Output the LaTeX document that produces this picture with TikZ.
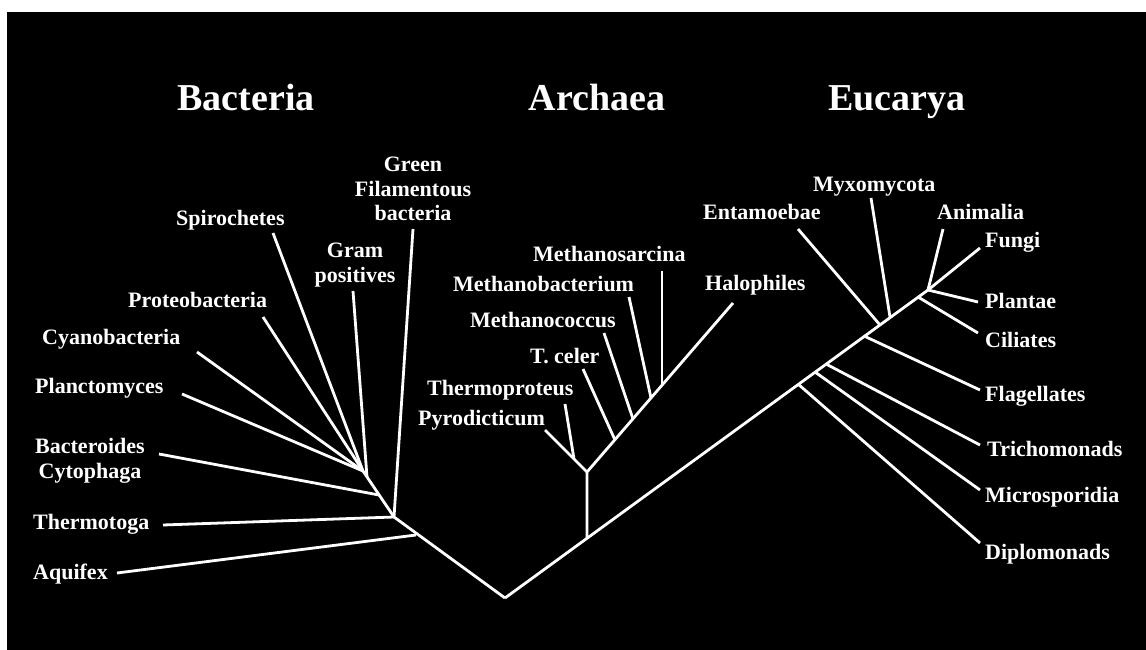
\documentclass[tikz,border=0pt]{standalone}
\usepackage{fontspec}
\setmainfont{Liberation Serif}

\begin{document}
\begin{tikzpicture}[x=1pt,y=-1pt,
        tree/.style={draw=white,line width=2.8pt},
        lab/.style={text=white,inner sep=0pt,font=\bfseries\fontsize{22}{24.5}\selectfont},
        taxon/.style={lab,text height=15pt,text depth=5pt},
        taxa/.style={lab,align=center},
        realm/.style={text=white,inner sep=0pt,text height=26pt,text depth=0pt,font=\bfseries\fontsize{38}{40}\selectfont}]
        \useasboundingbox (0,0) rectangle (1146,650);
        \fill[white] (0,0) rectangle (1146,650);
        \fill[black] (7,12) rectangle (1146,650);

        % domains
        \node[realm] (bact) at (246,98) {Bacteria};
        \node[realm] (arch) at (597,98) {Archaea};
        \node[realm] (euca) at (897,98) {Eucarya};

        % labels
        \node[taxon,anchor=west] (aqu) at (33,574) {Aquifex};
        \node[taxon,anchor=west] (the) at (33,524) {Thermotoga};
        \node[taxa] (bac) at (90,461) {Bacteroides\\Cytophaga};
        \node[taxon,anchor=west] (pla) at (35,388) {Planctomyces};
        \node[taxon,anchor=west] (cya) at (42,339) {Cyanobacteria};
        \node[taxon,anchor=west] (pro) at (128,302) {Proteobacteria};
        \node[taxon,anchor=west] (spi) at (176,220) {Spirochetes};
        \node[taxa] (gra) at (355,265) {Gram\\positives};
        \node[taxa] (gre) at (413,189) {Green\\Filamentous\\bacteria};

        \node[taxon,anchor=west] (pyr) at (418,420) {Pyrodicticum};
        \node[taxon,anchor=west] (thp) at (427,390) {Thermoproteus};
        \node[taxon,anchor=west] (tce) at (530,358) {T. celer};
        \node[taxon,anchor=west] (mcc) at (470,322) {Methanococcus};
        \node[taxon,anchor=west] (mbc) at (453,286) {Methanobacterium};
        \node[taxon,anchor=west] (msa) at (533,256) {Methanosarcina};
        \node[taxon,anchor=west] (hal) at (705,285) {Halophiles};

        \node[taxon,anchor=west] (ent) at (703,214) {Entamoebae};
        \node[taxon,anchor=west] (myx) at (813,186) {Myxomycota};
        \node[taxon,anchor=west] (ani) at (937,214) {Animalia};
        \node[taxon,anchor=west] (fun) at (985,242) {Fungi};
        \node[taxon,anchor=west] (pln) at (985,303) {Plantae};
        \node[taxon,anchor=west] (cil) at (985,342) {Ciliates};
        \node[taxon,anchor=west] (fla) at (985,396) {Flagellates};
        \node[taxon,anchor=west] (tri) at (987,451) {Trichomonads};
        \node[taxon,anchor=west] (mic) at (985,497) {Microsporidia};
        \node[taxon,anchor=west] (dip) at (985,554) {Diplomonads};

        % tree junctions
        \coordinate (root) at (505,598);
        \coordinate (aqj) at (416,535);
        \coordinate (bh) at (394,517);
        \coordinate (bcj) at (379,495);
        \coordinate (grj) at (367,477);
        \coordinate (bh2) at (363,471);
        \coordinate (aj) at (587,538);
        \coordinate (ah) at (587,472);
        \coordinate (pyj) at (574,459);
        \coordinate (tcj) at (615,440);
        \coordinate (mcj) at (633,419);
        \coordinate (mbj) at (651,398);
        \coordinate (msj) at (662,385);
        \coordinate (dij) at (798,384);
        \coordinate (mij) at (815,372);
        \coordinate (trj) at (826,364);
        \coordinate (flj) at (864,336);
        \coordinate (enj) at (880,325);
        \coordinate (myj) at (890,317);
        \coordinate (cij) at (918,297);
        \coordinate (eh) at (928,290);

        % free ends
        \coordinate (aqu-t) at (117,573);
        \coordinate (the-t) at (163,525);
        \coordinate (bac-t) at (159,454);
        \coordinate (pla-t) at (182,394);
        \coordinate (cya-t) at (197,352);
        \coordinate (pro-t) at (263,317);
        \coordinate (spi-t) at (273,233);
        \coordinate (gra-t) at (353,291);
        \coordinate (gre-t) at (413,229);
        \coordinate (pyr-t) at (545,430);
        \coordinate (thp-t) at (565,404);
        \coordinate (tce-t) at (583,369);
        \coordinate (mcc-t) at (604,333);
        \coordinate (mbc-t) at (629,297);
        \coordinate (msa-t) at (662,271);
        \coordinate (hal-t) at (733,303);
        \coordinate (ent-t) at (798,229);
        \coordinate (myx-t) at (871,198);
        \coordinate (ani-t) at (943,229);
        \coordinate (fun-t) at (980,248);
        \coordinate (pln-t) at (978,302);
        \coordinate (cil-t) at (978,333);
        \coordinate (fla-t) at (980,390);
        \coordinate (tri-t) at (980,445);
        \coordinate (mic-t) at (980,490);
        \coordinate (dip-t) at (980,543);

        % bacteria
        \draw[tree] (root) -- (bh) -- (bh2);
        \draw[tree] (aqu-t) -- (aqj);
        \draw[tree] (the-t) -- (bh);
        \draw[tree] (gre-t) -- (bh);
        \draw[tree] (bac-t) -- (bcj);
        \draw[tree] (gra-t) -- (grj);
        \draw[tree] (pla-t) -- (bh2);
        \draw[tree] (cya-t) -- (bh2);
        \draw[tree] (pro-t) -- (bh2);
        \draw[tree] (spi-t) -- (bh2);

        % archaea
        \draw[tree] (aj) -- (ah) -- (hal-t);
        \draw[tree] (pyr-t) -- (ah);
        \draw[tree] (thp-t) -- (pyj);
        \draw[tree] (tce-t) -- (tcj);
        \draw[tree] (mcc-t) -- (mcj);
        \draw[tree] (mbc-t) -- (mbj);
        \draw[tree] (msa-t) -- (msj);

        % eucarya
        \draw[tree] (root) -- (eh) -- (fun-t);
        \draw[tree] (ani-t) -- (eh);
        \draw[tree] (eh) -- (pln-t);
        \draw[tree] (cij) -- (cil-t);
        \draw[tree] (myx-t) -- (myj);
        \draw[tree] (ent-t) -- (enj);
        \draw[tree] (flj) -- (fla-t);
        \draw[tree] (trj) -- (tri-t);
        \draw[tree] (mij) -- (mic-t);
        \draw[tree] (dij) -- (dip-t);
\end{tikzpicture}
\end{document}
